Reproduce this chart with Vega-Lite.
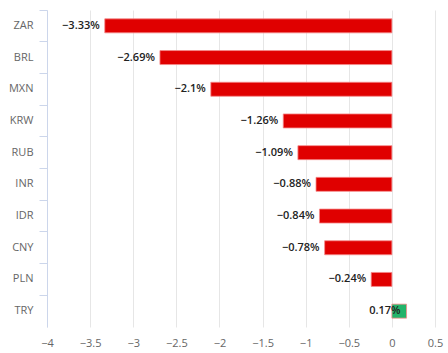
{
  "$schema": "https://vega.github.io/schema/vega-lite/v6.json",
  "width": 388,
  "height": 317,
  "autosize": {"type": "none"},
  "padding": {"left": 47, "top": 10, "right": 13, "bottom": 26},
  "background": "white",
  "config": {"view": {"stroke": null}, "font": "Open Sans"},
  "data": {"values": [
    {"c": "ZAR", "v": -3.33},
    {"c": "BRL", "v": -2.69},
    {"c": "MXN", "v": -2.1},
    {"c": "KRW", "v": -1.26},
    {"c": "RUB", "v": -1.09},
    {"c": "INR", "v": -0.88},
    {"c": "IDR", "v": -0.84},
    {"c": "CNY", "v": -0.78},
    {"c": "PLN", "v": -0.24},
    {"c": "TRY", "v": 0.17}
  ]},
  "transform": [{"calculate": "format(datum.v, '~g') + '%'", "as": "lbl"}],
  "encoding": {
    "y": {"field": "c", "type": "nominal", "sort": null, "title": null,
      "scale": {"paddingInner": 0, "paddingOuter": 0},
      "axis": {"labelColor": "#666666", "labelFontSize": 11, "labelPadding": 6,
        "domainColor": "#ccd6eb", "tickColor": "#ccd6eb", "tickSize": 8, "bandPosition": 0, "grid": false}},
    "x": {"field": "v", "type": "quantitative", "title": null,
      "scale": {"domain": [-4, 0.5], "nice": false, "zero": false},
      "axis": {"values": [-4, -3.5, -3, -2.5, -2, -1.5, -1, -0.5, 0, 0.5], "format": "~g",
        "labelColor": "#666666", "labelFontSize": 11, "domain": false, "ticks": false,
        "labelPadding": 10, "gridColor": "#e6e6e6", "labelFlush": false}}
  },
  "layer": [
    {"mark": {"type": "bar", "size": 14, "stroke": "#f58a8a", "strokeWidth": 0.8},
      "encoding": {
        "x2": {"datum": 0},
        "color": {"condition": {"test": "datum.v > 0", "value": "#22b46a"}, "value": "#e00000"}
      }},
    {"transform": [{"filter": "datum.v < 0"}],
      "mark": {"type": "text", "align": "right", "baseline": "middle", "dx": -5, "fontSize": 11, "fontWeight": 600, "color": "#222222"},
      "encoding": {"text": {"field": "lbl"}}},
    {"transform": [{"filter": "datum.v > 0"}],
      "mark": {"type": "text", "align": "right", "baseline": "middle", "dx": -6, "fontSize": 11, "fontWeight": 600, "color": "#222222"},
      "encoding": {"text": {"field": "lbl"}}}
  ]
}
